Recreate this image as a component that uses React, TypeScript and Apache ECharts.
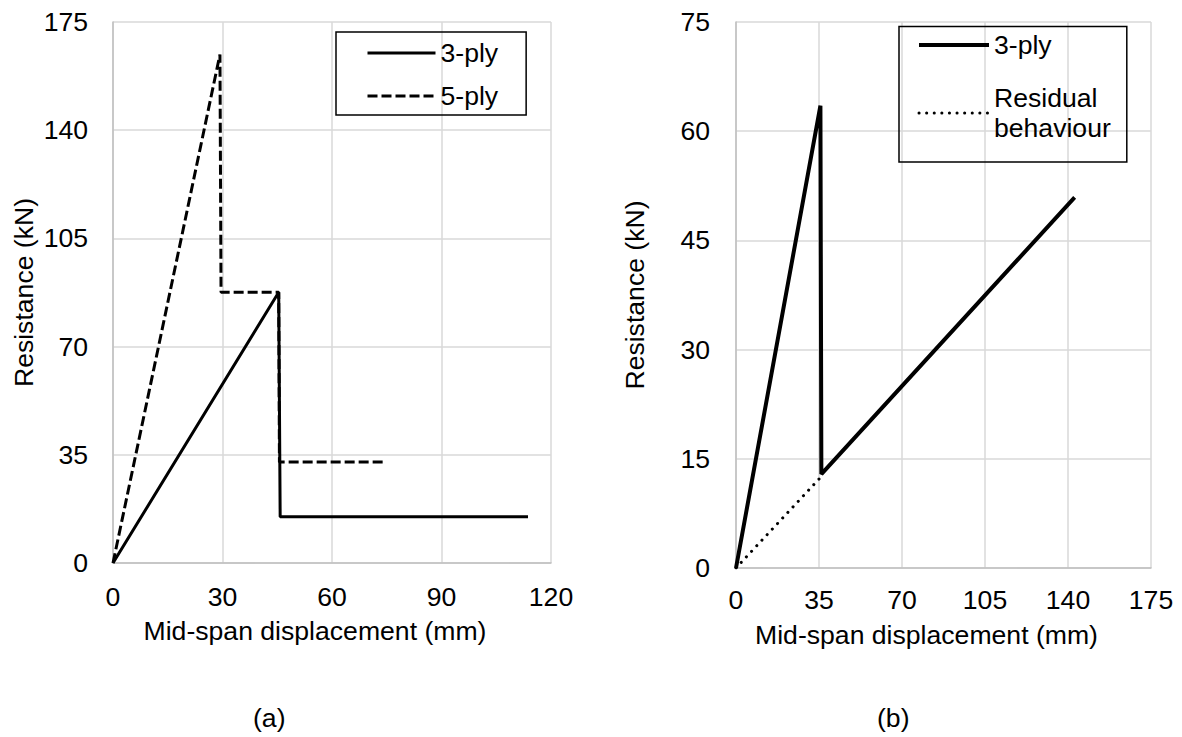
import React, { useEffect, useRef } from "react";
import * as echarts from "echarts";

// ---- data ----
const xTicksA = [0, 30, 60, 90, 120];
const yTicksA = [0, 35, 70, 105, 140, 175];
const xTicksB = [0, 35, 70, 105, 140, 175];
const yTicksB = [0, 15, 30, 45, 60, 75];

// (a) 3-ply
const a3x = [0, 45.4, 45.8, 113.7];
const a3y = [0, 87.6, 15.0, 15.0];
// (a) 5-ply
const a5x = [0, 29.3, 29.6, 45.4, 45.6, 74.3];
const a5y = [0, 164.5, 87.6, 87.6, 32.7, 32.7];
// (b) 3-ply
const b3x = [0, 35.6, 36.0, 142.8];
const b3y = [0, 63.5, 12.9, 50.9];
// (b) residual behaviour
const brx = [0, 35.8];
const bry = [0, 12.5];

const FONT = "Liberation Sans, Arial, Helvetica, sans-serif";
const FS = 26.6;
const zip = (xs: number[], ys: number[]) => xs.map((x, i) => [x, ys[i]]);

export default function App() {
  const ref = useRef<HTMLDivElement>(null);
  useEffect(() => {
    document.body.style.margin = "0";
    if (!ref.current) return;
    const chart = echarts.init(ref.current, undefined, { renderer: "svg" });
    const axisCommon = {
      type: "value" as const,
      axisLine: { show: true, lineStyle: { color: "#bfbfbf", width: 1.5 } },
      axisTick: { show: false },
      splitLine: { show: true, lineStyle: { color: "#d9d9d9", width: 1.5 } },
      axisLabel: { color: "#000", fontSize: FS, fontFamily: FONT },
      nameTextStyle: { color: "#000", fontSize: FS, fontFamily: FONT },
    };
    const legendCommon = {
      orient: "vertical" as const,
      itemHeight: 2,
      borderColor: "#000",
      borderWidth: 1.5,
      itemStyle: { color: "rgba(0,0,0,0)", borderWidth: 0, opacity: 0 },
      textStyle: { color: "#000", fontSize: FS, fontFamily: FONT, lineHeight: 30 },
      selectedMode: false,
    };
    chart.setOption({
      animation: false,
      backgroundColor: "#fff",
      textStyle: { fontFamily: FONT },
      grid: [
        { left: 113, top: 22, width: 438, height: 541, containLabel: false },
        { left: 736, top: 22, width: 415, height: 546, containLabel: false },
      ],
      xAxis: [
        {
          ...axisCommon,
          gridIndex: 0,
          min: xTicksA[0],
          max: xTicksA[xTicksA.length - 1],
          interval: xTicksA[1] - xTicksA[0],
          axisLabel: { ...axisCommon.axisLabel, margin: 20 },
          name: "Mid-span displacement (mm)",
          nameLocation: "middle",
          nameGap: 54,
          nameTextStyle: { ...axisCommon.nameTextStyle, padding: [0, 34, 0, 0] },
        },
        {
          ...axisCommon,
          gridIndex: 1,
          min: xTicksB[0],
          max: xTicksB[xTicksB.length - 1],
          interval: xTicksB[1] - xTicksB[0],
          axisLabel: { ...axisCommon.axisLabel, margin: 18 },
          name: "Mid-span displacement (mm)",
          nameLocation: "middle",
          nameGap: 53,
          nameTextStyle: { ...axisCommon.nameTextStyle, padding: [0, 34, 0, 0] },
        },
      ],
      yAxis: [
        {
          ...axisCommon,
          gridIndex: 0,
          min: yTicksA[0],
          max: yTicksA[yTicksA.length - 1],
          interval: yTicksA[1] - yTicksA[0],
          axisLabel: { ...axisCommon.axisLabel, margin: 25 },
          name: "Resistance (kN)",
          nameLocation: "middle",
          nameGap: 76,
        },
        {
          ...axisCommon,
          gridIndex: 1,
          min: yTicksB[0],
          max: yTicksB[yTicksB.length - 1],
          interval: yTicksB[1] - yTicksB[0],
          axisLabel: { ...axisCommon.axisLabel, margin: 26 },
          name: "Resistance (kN)",
          nameLocation: "middle",
          nameGap: 88,
        },
      ],
      legend: [
        {
          ...legendCommon,
          left: 336,
          top: 32,
          data: [
            { name: "3-ply", lineStyle: { width: 3 } },
            { name: "5-ply", lineStyle: { width: 3, type: [10, 4] } },
          ],
          itemWidth: 68,
          itemGap: 13,
          padding: [6, 28, 4, 30],
        },
        {
          ...legendCommon,
          left: 899,
          top: 26.5,
          data: [
            { name: "3-ply", lineStyle: { width: 4, type: "solid" } },
            {
              name: "Residual behaviour",
              lineStyle: { width: 3, type: [0.1, 7.5], cap: "round" },
              textStyle: { padding: [30, 0, 0, 0] },
            },
          ],
          formatter: (n: string) => (n === "Residual behaviour" ? "Residual\nbehaviour" : n),
          itemWidth: 70,
          itemGap: 8,
          padding: [3.5, 16, 4, 18],
        },
      ],
      graphic: [
        {
          type: "text",
          left: 253,
          top: 704,
          style: { text: "(a)", fontSize: FS, fontFamily: FONT, fill: "#000" },
        },
        {
          type: "text",
          left: 877,
          top: 704,
          style: { text: "(b)", fontSize: FS, fontFamily: FONT, fill: "#000" },
        },
      ],
      series: [
        {
          name: "5-ply",
          type: "line",
          xAxisIndex: 0,
          yAxisIndex: 0,
          data: zip(a5x, a5y),
          symbol: "none",
          z: 2,
          lineStyle: { color: "#000", width: 3, type: [10, 4] },
          itemStyle: { color: "#000" },
        },
        {
          name: "3-ply",
          type: "line",
          xAxisIndex: 0,
          yAxisIndex: 0,
          data: zip(a3x, a3y),
          symbol: "none",
          z: 3,
          lineStyle: { color: "#000", width: 3 },
          itemStyle: { color: "#000" },
        },
        {
          name: "Residual behaviour",
          type: "line",
          xAxisIndex: 1,
          yAxisIndex: 1,
          data: zip(brx, bry),
          symbol: "none",
          z: 2,
          lineStyle: { color: "#000", width: 3, type: [0.1, 7.5], cap: "round" },
          itemStyle: { color: "#000" },
        },
        {
          name: "3-ply",
          type: "line",
          xAxisIndex: 1,
          yAxisIndex: 1,
          data: zip(b3x, b3y),
          symbol: "none",
          z: 3,
          lineStyle: { color: "#000", width: 4 },
          itemStyle: { color: "#000" },
        },
      ],
    });
    return () => chart.dispose();
  }, []);
  return <div ref={ref} style={{ width: 1182, height: 737 }} />;
}
